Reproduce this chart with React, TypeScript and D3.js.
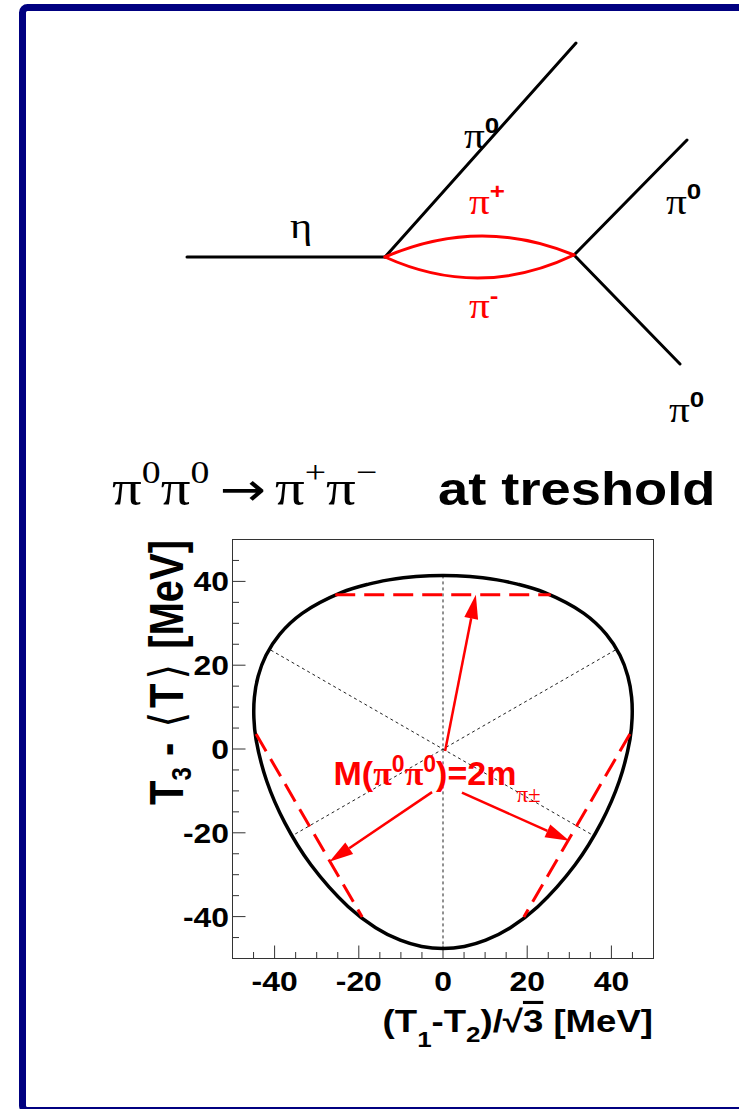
import React from "react";
import * as d3 from "d3";

// Kinematic boundary of the eta -> 3pi0 Dalitz plot, X = (T1-T2)/sqrt3, Y = T3 - <T>  [MeV]
const boundaryX = [
  0, 5.07, 10.14, 16.0, 22.51, 31.38, 37.56, 41.88, 44.42, 44.92, 44.8, 43.91, 42.04, 38.8, 33.45, 24.07, 17.66,
  12.87, 9.44, 3.25, 0, -3.25, -9.44, -12.87, -17.66, -24.07, -33.45, -38.8, -42.04, -43.91, -44.8, -44.92, -44.42,
  -41.88, -37.56, -31.38, -22.51, -16.0, -10.14, -5.07,
];
const boundaryY = [
  -47.64, -47.14, -45.64, -42.64, -37.64, -27.64, -17.64, -7.64, 2.36, 7.36, 12.36, 17.36, 22.36, 27.36, 32.36, 37.36,
  39.36, 40.36, 40.86, 41.36, 41.43, 41.36, 40.86, 40.36, 39.36, 37.36, 32.36, 27.36, 22.36, 17.36, 12.36, 7.36, 2.36,
  -7.64, -17.64, -27.64, -37.64, -42.64, -45.64, -47.14,
];

// Symmetry axes (dotted): [x1, y1, x2, y2]
const symmetryAxes = [
  [0, 41.43, 0, -47.64],
  [-40.9, 23.6, 35.3, -20.4],
  [40.9, 23.6, -35.3, -20.4],
];

// Lines of M(pi0 pi0) = 2 m(pi+-) (dashed red): [x1, y1, x2, y2]
const thresholdLines = [
  [-25.6, 36.82, 25.6, 36.82],
  [44.4, 3.6, 19.2, -40.1],
  [-44.4, 3.6, -19.2, -40.1],
];

// Arrows pointing from the label to the threshold lines: [x1, y1, x2, y2]
const arrows = [
  [0.5, -0.5, 7.8, 36.8],
  [-2.6, -10.3, -27.0, -26.9],
  [4.5, -10.4, 30.0, -21.9],
];

const xDomain = [-50, 50];
const yDomain = [-50, 50];
const majorTicks = [-40, -20, 0, 20, 40];
const minorTicks = [-45, -35, -30, -25, -15, -10, -5, 5, 10, 15, 25, 30, 35, 45];

const W = 739;
const H = 1109;
const SANS = "'Liberation Sans', Arial, Helvetica, sans-serif";
const SERIF = "'Liberation Serif', 'Times New Roman', 'DejaVu Serif', serif";
const BRACKET = "'DejaVu Sans', sans-serif";
const SX = 1.18;
const RED = "#ff0000";

function SText({ x, y, sx = SX, rotate = 0, children, ...rest }: any) {
  return (
    <g transform={`translate(${x},${y}) scale(${sx},1)${rotate ? ` rotate(${rotate})` : ""}`}>
      <text {...rest}>{children}</text>
    </g>
  );
}

function Pi0({ x, y, color = "#000", sup = "0" }: any) {
  return (
    <SText x={x} y={y} fill={color}>
      <tspan fontFamily={SERIF} fontSize={35}>π</tspan>
      <tspan fontFamily={SANS} fontWeight="bold" fontSize={22} dy={-15}>
        {sup}
      </tspan>
    </SText>
  );
}

export default function App() {
  const x = d3.scaleLinear().domain(xDomain).range([232.5, 653.5]);
  const y = d3.scaleLinear().domain(yDomain).range([958.5, 539.5]);

  const pts: [number, number][] = boundaryX.map((bx, i) => [x(bx), y(boundaryY[i])]);
  const boundaryPath = d3.line().curve(d3.curveCatmullRomClosed.alpha(0.5))(pts) || "";

  const headLen = 24;
  const headHalf = 7;

  return (
    <svg
      width={W}
      height={H}
      viewBox={`0 0 ${W} ${H}`}
      style={{ position: "absolute", left: 0, top: 0, background: "#fff" }}
    >
      {/* outer frame */}
      <rect x={22.5} y={7.5} width={780} height={1103} rx={5} fill="none" stroke="#000080" strokeWidth={7} />

      {/* Feynman diagram */}
      <g fill="none" strokeWidth={3} strokeLinecap="round">
        <path d="M187,257 L385,257" stroke="#000" />
        <path d="M385,257 L576,43" stroke="#000" />
        <path d="M574,255 L687,140" stroke="#000" />
        <path d="M574,255 L680,364" stroke="#000" />
        <path d="M385,257 Q480,216 574,255" stroke={RED} />
        <path d="M385,257 Q480,300 574,255" stroke={RED} />
      </g>
      <SText x={290} y={238} fontFamily={SERIF} fontSize={36}>
        η
      </SText>
      <Pi0 x={464} y={148} />
      <Pi0 x={469} y={214} color={RED} sup="+" />
      <Pi0 x={469} y={318} color={RED} sup="-" />
      <Pi0 x={666} y={214} />
      <Pi0 x={669} y={422} />

      {/* title */}
      <SText x={112} y={505} fontFamily={SERIF} fontSize={50}>
        <tspan>π</tspan>
        <tspan fontSize={32} dy={-22}>0</tspan>
        <tspan dy={22}>π</tspan>
        <tspan fontSize={32} dy={-22}>0</tspan>
      </SText>
      <SText x={220} y={505} sx={1.2} fontFamily={BRACKET} fontSize={46}>
        →
      </SText>
      <SText x={275} y={505} fontFamily={SERIF} fontSize={50}>
        <tspan>π</tspan>
        <tspan fontSize={32} dy={-22}>+</tspan>
        <tspan dy={22}>π</tspan>
        <tspan fontSize={32} dy={-22}>−</tspan>
      </SText>
      <SText x={438} y={505} fontFamily={SANS} fontWeight="bold" fontSize={46}>
        at treshold
      </SText>

      {/* plot frame */}
      <rect x={232.5} y={539.5} width={421} height={419} fill="none" stroke="#333" strokeWidth={1} />

      {/* ticks */}
      <g stroke="#333" strokeWidth={1}>
        {majorTicks.map((t) => (
          <g key={"M" + t}>
            <line x1={x(t)} x2={x(t)} y1={958.5} y2={958.5 - 13} />
            <line x1={232.5} x2={232.5 + 13} y1={y(t)} y2={y(t)} />
          </g>
        ))}
        {minorTicks.map((t) => (
          <g key={"m" + t}>
            <line x1={x(t)} x2={x(t)} y1={958.5} y2={958.5 - 6.5} />
            <line x1={232.5} x2={232.5 + 6.5} y1={y(t)} y2={y(t)} />
          </g>
        ))}
      </g>

      {/* tick labels */}
      {majorTicks.map((t) => (
        <SText key={"xl" + t} x={x(t)} y={991} fontFamily={SANS} fontWeight="bold" fontSize={27} textAnchor="middle">
          {t}
        </SText>
      ))}
      {majorTicks.map((t) => (
        <SText key={"yl" + t} x={229} y={y(t) + 10} fontFamily={SANS} fontWeight="bold" fontSize={27} textAnchor="end">
          {t}
        </SText>
      ))}

      {/* axis titles */}
      <SText x={653} y={1032} fontFamily={SANS} fontWeight="bold" fontSize={31} textAnchor="end">
        <tspan>(T</tspan>
        <tspan fontSize={22} dy={15}>1</tspan>
        <tspan dy={-15}>-T</tspan>
        <tspan fontSize={22} dy={10}>2</tspan>
        <tspan dy={-10}>)/√</tspan>
        <tspan textDecoration="overline">3</tspan>
        <tspan> [MeV]</tspan>
      </SText>
      <SText x={183} y={540} rotate={-90} fontFamily={SANS} fontWeight="bold" fontSize={40} textAnchor="end">
        <tspan>T</tspan>
        <tspan fontSize={24} dy={7}>3</tspan>
        <tspan dy={-7}> - </tspan>
        <tspan fontFamily={BRACKET} fontWeight="normal" dx={4}>⟨</tspan>
        <tspan dx={4}>T</tspan>
        <tspan fontFamily={BRACKET} fontWeight="normal" dx={4}>⟩</tspan>
        <tspan dx={4}> [MeV]</tspan>
      </SText>

      {/* symmetry axes */}
      <g stroke="#222" strokeWidth={1} strokeDasharray="3 3" fill="none">
        {symmetryAxes.map((l, i) => (
          <line key={i} x1={x(l[0])} y1={y(l[1])} x2={x(l[2])} y2={y(l[3])} />
        ))}
      </g>

      {/* boundary */}
      <path d={boundaryPath} fill="none" stroke="#000" strokeWidth={3.5} />

      {/* threshold lines */}
      <g stroke={RED} strokeWidth={3} strokeDasharray="20 9" fill="none">
        {thresholdLines.map((l, i) => (
          <line key={i} x1={x(l[0])} y1={y(l[1])} x2={x(l[2])} y2={y(l[3])} />
        ))}
      </g>

      {/* arrows */}
      {arrows.map((a, i) => {
        const x1 = x(a[0]);
        const y1 = y(a[1]);
        const x2 = x(a[2]);
        const y2 = y(a[3]);
        const ang = Math.atan2(y2 - y1, x2 - x1);
        const bx = x2 - headLen * Math.cos(ang);
        const by = y2 - headLen * Math.sin(ang);
        const px = -Math.sin(ang) * headHalf;
        const py = Math.cos(ang) * headHalf;
        return (
          <g key={i}>
            <line x1={x1} y1={y1} x2={bx} y2={by} stroke={RED} strokeWidth={2.5} />
            <path d={`M${x2},${y2} L${bx + px},${by + py} L${bx - px},${by - py} Z`} fill={RED} />
          </g>
        );
      })}

      {/* label */}
      <SText x={x(-26)} y={y(-8.6)} sx={1} fill={RED} fontFamily={SANS} fontWeight="bold" fontSize={34}>
        <tspan>M(</tspan>
        <tspan fontFamily={SERIF}>π</tspan>
        <tspan fontSize={23} dy={-13}>0</tspan>
        <tspan fontFamily={SERIF} dy={13}>π</tspan>
        <tspan fontSize={23} dy={-13}>0</tspan>
        <tspan dy={13}>)=2m</tspan>
        <tspan fontFamily={SERIF} fontWeight="normal" fontSize={23} dy={17}>π±</tspan>
      </SText>
    </svg>
  );
}
